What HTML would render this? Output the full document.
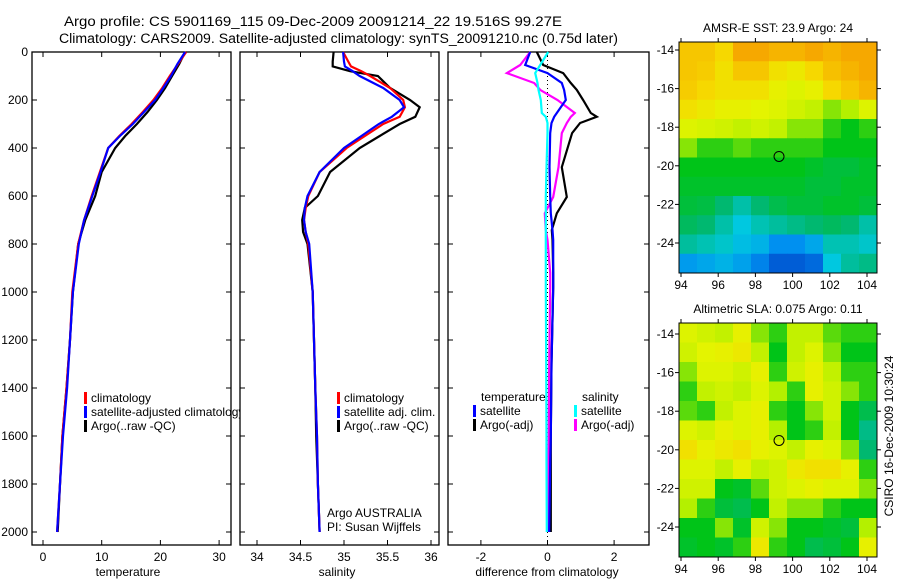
<!DOCTYPE html>
<html><head><meta charset="utf-8"><style>
html,body{margin:0;padding:0;background:#fff;}
svg{display:block;font-family:"Liberation Sans",sans-serif;}
</style></head><body>
<svg id="c" width="900" height="580" viewBox="0 0 900 580" xmlns="http://www.w3.org/2000/svg">
<text x="64" y="26" font-size="13.5" textLength="498" lengthAdjust="spacingAndGlyphs">Argo profile: CS 5901169_115 09-Dec-2009 20091214_22 19.516S 99.27E</text>
<text x="59" y="43" font-size="13.5" textLength="559" lengthAdjust="spacingAndGlyphs">Climatology: CARS2009. Satellite-adjusted climatology: synTS_20091210.nc (0.75d later)</text>
<g id="g"></g>
</svg>
<script>
// ---------- data ----------
const tDepth=[0,50,100,150,200,250,300,350,400,500,600,700,800,1000,1200,1400,1600,1800,2000];
const tClim=[24.4,23.0,21.6,20.3,18.8,17.0,15.1,13.0,11.1,9.7,8.3,7.0,6.0,5.0,4.6,4.0,3.3,2.9,2.4];
const tSat=[24.2,22.9,21.8,20.5,19.1,17.2,15.3,13.1,11.1,9.8,8.4,7.0,6.1,5.1,4.6,4.1,3.4,2.9,2.4];
const tArgo=[24.2,23.2,22.0,20.8,19.4,17.8,16.0,14.0,12.3,10.0,8.9,7.2,6.0,5.1,4.6,4.0,3.3,2.9,2.5];
const sDepth=[0,40,60,80,100,150,200,230,270,300,350,400,500,600,650,700,750,800,1000,1400,1600,1800,2000];
const sClim=[34.99,35.05,35.08,35.2,35.3,35.53,35.68,35.70,35.64,35.45,35.24,35.03,34.72,34.59,34.56,34.54,34.56,34.59,34.64,34.67,34.69,34.7,34.72];
const sSat=[34.99,35.0,35.01,35.1,35.18,35.45,35.64,35.69,35.55,35.40,35.2,35.0,34.72,34.58,34.55,34.54,34.56,34.6,34.64,34.67,34.69,34.7,34.72];
const sArgo=[34.88,34.87,34.87,35.07,35.39,35.53,35.76,35.87,35.82,35.64,35.41,35.18,34.84,34.7,34.55,34.52,34.53,34.58,34.64,34.67,34.68,34.7,34.72];
const dDepth=[0,54,88,129,158,200,254,270,296,338,480,604,672,742,783,920,980,1300,1600,1700,2000];
const dTArgo=[-0.32,-0.13,0.47,0.7,0.88,1.07,1.3,1.48,0.98,0.74,0.43,0.58,0.28,0.13,0.15,0.17,0.17,0.12,0.1,0.1,0.1];
const dTSat=[-0.52,-0.67,0.0,0.43,0.5,0.55,0.28,0.2,0.12,0.08,0.06,0.08,0.1,0.15,0.17,0.17,0.17,0.12,0.1,0.08,0.05];
const dSArgo=[-0.52,-0.82,-1.22,-0.4,-0.22,0.3,0.82,0.7,0.58,0.43,0.33,0.17,-0.08,-0.05,0.0,0.08,0.08,0.05,0.04,0.03,0.02];
const dSSat=[0.02,-0.22,-0.37,-0.3,-0.27,-0.2,-0.17,-0.05,0.0,0.0,-0.03,-0.05,-0.05,-0.05,-0.05,-0.05,-0.05,-0.04,-0.03,-0.03,-0.02];
const depthTicks=[0,200,400,600,800,1000,1200,1400,1600,1800,2000];
const tTicks=[0,10,20,30];
const sTicks=[34,34.5,35,35.5,36];
const sTickLabels=["34","34.5","35","35.5","36"];
const dTicks=[-2,0,2];
const lonTicks=[94,96,98,100,102,104];
const latTicks=[-14,-16,-18,-20,-22,-24];
// SST map (rows -14..-25, cols 94..104), colour index 0..1
const sstGrid=[
[.85,.85,.82,.9,.9,.88,.88,.9,.88,.9,.9],
[.85,.84,.8,.85,.85,.8,.78,.82,.86,.88,.9],
[.84,.82,.8,.8,.8,.76,.74,.76,.82,.85,.88],
[.8,.78,.76,.76,.75,.74,.72,.7,.66,.68,.74],
[.74,.73,.72,.7,.72,.7,.66,.66,.62,.6,.62],
[.66,.62,.62,.64,.62,.62,.62,.62,.6,.6,.6],
[.6,.6,.6,.6,.6,.6,.6,.58,.56,.56,.58],
[.58,.58,.58,.58,.58,.58,.58,.56,.56,.58,.58],
[.56,.55,.5,.45,.5,.54,.56,.56,.58,.58,.56],
[.52,.5,.45,.4,.44,.46,.48,.5,.52,.5,.45],
[.46,.44,.42,.38,.36,.3,.3,.34,.44,.44,.42],
[.32,.34,.36,.33,.28,.22,.22,.24,.4,.46,.48]];
const slaGrid=[
[.74,.72,.7,.76,.66,.62,.7,.7,.64,.62,.62],
[.72,.75,.76,.78,.7,.6,.7,.74,.66,.6,.6],
[.66,.74,.74,.72,.76,.62,.72,.76,.7,.62,.62],
[.62,.7,.72,.7,.74,.68,.62,.76,.72,.66,.62],
[.64,.62,.7,.74,.76,.62,.6,.66,.72,.6,.54],
[.74,.72,.76,.74,.76,.68,.6,.62,.7,.6,.48],
[.8,.76,.78,.8,.76,.74,.7,.76,.74,.66,.5],
[.74,.74,.7,.76,.7,.72,.78,.8,.8,.76,.62],
[.72,.72,.6,.58,.64,.72,.74,.76,.74,.74,.66],
[.68,.62,.56,.54,.6,.7,.66,.66,.62,.6,.6],
[.6,.6,.66,.58,.72,.66,.6,.6,.58,.56,.68],
[.58,.6,.58,.62,.78,.62,.6,.54,.56,.6,.76]];
const argoLon=99.27, argoLat=-19.516;

// ---------- helpers ----------
const NS="http://www.w3.org/2000/svg";
const G=document.getElementById('g');
function mk(tag,attrs,parent){const e=document.createElementNS(NS,tag);for(const k in attrs)e.setAttribute(k,attrs[k]);(parent||G).appendChild(e);return e;}
function txt(x,y,s,anchor,size){const e=mk('text',{x:x,y:y,'font-size':size||12,'text-anchor':anchor||'start'});e.textContent=s;return e;}
const yD=d=>52+d*0.24;
const xT=v=>43+v*5.87;
const xS=v=>257+(v-34)*87;
const xDf=v=>547.5+v*33.3;

function panel(x0,x1,name){
  const r=mk('rect',{x:x0,y:52,width:x1-x0,height:493,fill:'#fff',stroke:'#000','stroke-width':1.3});
  
  
  depthTicks.forEach(d=>{mk('line',{x1:x0,x2:x0+5,y1:yD(d),y2:yD(d),stroke:'#000'});mk('line',{x1:x1-5,x2:x1,y1:yD(d),y2:yD(d),stroke:'#000'});});
}
function xticks(ticks,labels,fx){ticks.forEach((v,i)=>{const x=fx(v);mk('line',{x1:x,x2:x,y1:52,y2:57,stroke:'#000'});mk('line',{x1:x,x2:x,y1:540,y2:545,stroke:'#000'});const t=txt(x,561,labels[i],'middle');});}
function line(xs,ds,fx,col,name,w){const pts=xs.map((v,i)=>fx(v).toFixed(1)+','+yD(ds[i]).toFixed(1)).join(' ');const p=mk('polyline',{points:pts,fill:'none',stroke:col,'stroke-width':w||2.2});}
function leg(x,y,col,s){mk('rect',{x:x,y:y-10,width:3,height:12,fill:col});const t=txt(x+7,y,s);}

// panel 1: temperature
panel(32,231,'temperature-panel');
depthTicks.forEach(d=>{const t=txt(28,yD(d)+4,String(d),'end');});
xticks(tTicks,tTicks.map(String),xT);
line(tArgo,tDepth,xT,'#000','temp-argo-line');
line(tClim,tDepth,xT,'#f00','temp-climatology-line');
line(tSat,tDepth,xT,'#00f','temp-satellite-line');
leg(84,402,'#f00','climatology');leg(84,416,'#00f','satellite-adjusted climatology');leg(84,430,'#000','Argo(..raw -QC)');
let xl=txt(128,576,'temperature','middle');

// panel 2: salinity
panel(240,439,'salinity-panel');
xticks(sTicks,sTickLabels,xS);
line(sArgo,sDepth,xS,'#000','sal-argo-line');
line(sClim,sDepth,xS,'#f00','sal-climatology-line');
line(sSat,sDepth,xS,'#00f','sal-satellite-line');
leg(337,402,'#f00','climatology');leg(337,416,'#00f','satellite adj. clim.');leg(337,430,'#000','Argo(..raw -QC)');
txt(327,517,'Argo AUSTRALIA');txt(327,531,'PI: Susan Wijffels');
xl=txt(337,576,'salinity','middle');

// panel 3: differences
panel(448,649,'difference-panel');
xticks(dTicks,dTicks.map(String),xDf);
mk('line',{x1:xDf(0),x2:xDf(0),y1:52,y2:545,stroke:'#000','stroke-dasharray':'1,3'});
line(dTArgo,dDepth,xDf,'#000','diff-temp-argo-line');
line(dSArgo,dDepth,xDf,'#f0f','diff-sal-argo-line');
line(dTSat,dDepth,xDf,'#00f','diff-temp-satellite-line');
line(dSSat,dDepth,xDf,'#0ff','diff-sal-satellite-line');
txt(481,401,'temperature');txt(582,401,'salinity');
leg(473,415,'#00f','satellite');leg(473,429,'#000','Argo(-adj)');
leg(574,415,'#0ff','satellite');leg(574,429,'#f0f','Argo(-adj)');
xl=txt(547,576,'difference from climatology','middle');

// colour map
const stops=[[0.2,[0,80,208]],[0.3,[0,144,240]],[0.4,[0,200,224]],[0.5,[0,184,112]],[0.6,[0,196,24]],[0.68,[180,240,0]],[0.75,[228,244,0]],[0.82,[246,216,0]],[0.9,[246,168,0]]];
function cmap(v){if(v<=stops[0][0])return stops[0][1];for(let i=1;i<stops.length;i++){if(v<=stops[i][0]){const a=stops[i-1],b=stops[i],f=(v-a[0])/(b[0]-a[0]);return a[1].map((c,k)=>Math.round(c+(b[1][k]-c)*f));}}return stops[stops.length-1][1];}

function mapPanel(grid,top,bot,lat14y,title,name){
  const x0=679,x1=877;
  const xL=lon=>681+(lon-94)*18.6;
  const yL=lat=>lat14y+(-14-lat)*19.3;
  const nr=grid.length,nc=grid[0].length,cw=(x1-x0)/nc,ch=(bot-top)/nr;
  grid.forEach((row,i)=>row.forEach((v,j)=>{const c=cmap(v);const r=mk('rect',{x:(x0+j*cw).toFixed(2),y:(top+i*ch).toFixed(2),width:(cw+0.5).toFixed(2),height:(ch+0.5).toFixed(2),fill:'rgb('+c.join(',')+')'});
    
    }));
  const fr=mk('rect',{x:x0,y:top,width:x1-x0,height:bot-top,fill:'none',stroke:'#000','stroke-width':1});
  
  
  lonTicks.forEach(l=>{const x=xL(l);mk('line',{x1:x,x2:x,y1:top-4,y2:top,stroke:'#000'});mk('line',{x1:x,x2:x,y1:bot,y2:bot+4,stroke:'#000'});txt(x,bot+16,String(l),'middle');});
  latTicks.forEach(l=>{const y=yL(l);mk('line',{x1:x0-4,x2:x0,y1:y,y2:y,stroke:'#000'});mk('line',{x1:x1,x2:x1+4,y1:y,y2:y,stroke:'#000'});txt(x0-5,y+4,String(l),'end');});
  const c=mk('circle',{cx:xL(argoLon),cy:yL(argoLat),r:5,fill:'none',stroke:'#000','stroke-width':1});
  
  
  const t=txt(778,top-10,title,'middle');
}
mapPanel(sstGrid,42,273,50,'AMSR-E SST: 23.9 Argo: 24','sst-map');
mapPanel(slaGrid,323,557,334,'Altimetric SLA: 0.075 Argo: 0.11','sla-map');
const ct=txt(0,0,'CSIRO 16-Dec-2009 10:30:24','middle');
ct.setAttribute('transform','translate(893,436) rotate(-90)');


</script>
</body></html>
